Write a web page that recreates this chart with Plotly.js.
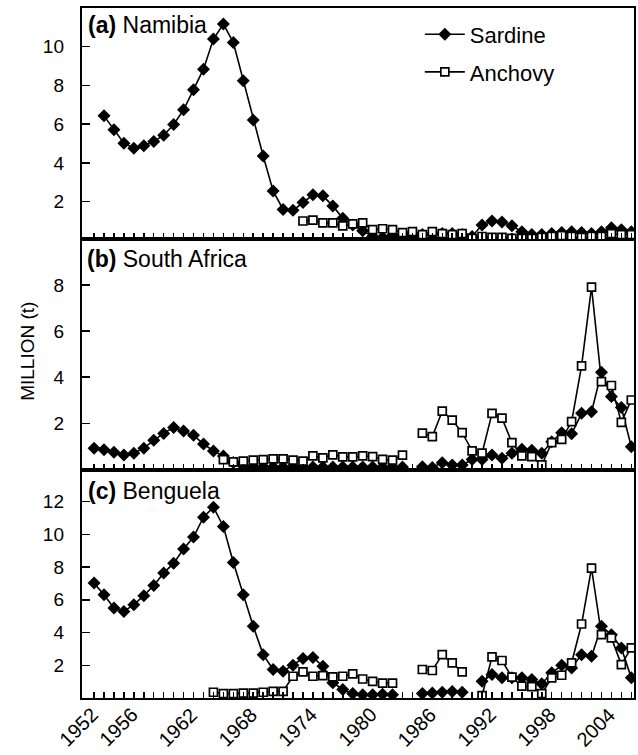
<!DOCTYPE html>
<html><head><meta charset="utf-8">
<script src="https://cdn.plot.ly/plotly-3.0.1.min.js"></script>
<style>html,body{margin:0;padding:0;background:#fff;} #chart{width:638px;height:755px;}</style>
</head><body><div id="chart"></div>
<script>
const years = [1951,1952,1953,1954,1955,1956,1957,1958,1959,1960,
  1961,1962,1963,1964,1965,1966,1967,1968,1969,1970,
  1971,1972,1973,1974,1975,1976,1977,1978,1979,1980,
  1981,1982,1983,1984,1985,1986,1987,1988,1989,1990,
  1991,1992,1993,1994,1995,1996,1997,1998,1999,2000,
  2001,2002,2003,2004,2005];

// (a) Namibia
const namibiaSardine = [null,6.43,5.71,5.02,4.76,4.88,5.10,5.43,5.98,6.74,
  7.78,8.84,10.4,11.17,10.22,8.24,6.21,4.36,2.55,1.6,
  1.55,1.95,2.35,2.3,1.78,1.14,0.8,0.5,0.2,0.15,
  0.25,0.3,0.25,0.3,0.3,0.35,0.35,0.3,0.2,0.8,
  1.0,0.95,0.75,0.45,0.3,0.3,0.35,0.4,0.45,0.4,
  0.35,0.45,0.65,0.55,0.45];
const namibiaAnchovy = [null,null,null,null,null,null,null,null,null,null,
  null,null,null,null,null,null,null,null,null,null,
  null,1.0,1.05,0.9,0.9,0.75,0.85,0.9,0.55,0.6,
  0.55,0.4,0.45,0.3,0.45,0.35,0.3,0.35,0.1,0.2,
  0.15,0.15,0.1,0.1,0.1,0.15,0.2,0.25,0.2,0.15,
  0.2,0.2,0.35,0.3,0.3];

// (b) South Africa
const southAfricaSardine = [0.92,0.85,0.74,0.62,0.70,0.92,1.26,1.56,1.82,1.66,
  1.48,1.10,0.80,0.58,0.30,0.15,0.12,0.1,0.1,0.1,
  0.1,0.1,0.1,0.1,0.1,0.1,0.1,0.1,0.1,0.1,
  0.1,0.1,null,0.11,0.08,0.29,0.19,0.19,0.43,0.43,
  0.62,0.48,0.70,0.87,0.83,0.70,1.2,1.59,1.54,2.43,
  2.5,4.22,3.16,2.68,0.98];
const southAfricaAnchovy = [null,null,null,null,null,null,null,null,null,null,
  null,null,null,0.42,0.32,0.36,0.4,0.42,0.45,0.45,
  0.4,0.36,0.58,0.5,0.63,0.54,0.54,0.58,0.55,0.43,
  0.4,0.62,null,1.57,1.42,2.53,2.14,1.59,0.80,0.70,
  2.43,2.22,1.16,0.58,0.55,0.19,1.16,1.30,2.07,4.49,
  7.91,3.81,3.64,2.04,3.01];

// (c) Benguela
const benguelaSardine = [7.02,6.31,5.5,5.29,5.70,6.25,6.88,7.63,8.24,9.10,
  9.83,11.05,11.66,10.48,8.28,6.31,4.38,2.65,1.74,1.63,
  2.0,2.42,2.48,1.94,0.93,0.52,0.27,0.2,0.2,0.23,
  0.2,null,null,0.27,0.3,0.35,0.4,0.35,null,1.02,
  1.43,1.23,1.23,1.23,1.13,0.87,1.54,2.0,1.84,2.65,
  2.55,4.38,3.87,3.06,1.23];
const benguelaAnchovy = [null,null,null,null,null,null,null,null,null,null,
  null,null,0.35,0.27,0.27,0.3,0.3,0.35,0.4,0.41,
  1.33,1.6,1.33,1.37,1.29,1.33,1.47,1.16,1.02,0.91,
  0.91,null,null,1.74,1.68,2.65,2.14,1.6,null,0.15,
  2.51,2.29,1.27,0.72,0.7,0.27,1.23,1.39,2.15,4.52,
  7.94,3.87,3.67,2.04,3.06];

const xTickLabels = ['1952','1956','1962','1968','1974','1980','1986','1992','1998','2004'];
const yTicksA = [2,4,6,8,10];
const yTicksB = [2,4,6,8];
const yTicksC = [2,4,6,8,10,12];
const seriesNames = ['Sardine','Anchovy'];
const panelTitles = ['<b>(a)</b> Namibia','<b>(b)</b> South Africa','<b>(c)</b> Benguela'];
const yTitle = 'MILLION (t)';

const FONT = 'Liberation Sans, Arial, Helvetica, sans-serif';

function sardine(y, xa, ya, show) {
  return {x: years, y: y, xaxis: xa, yaxis: ya, name: seriesNames[0], type: 'scatter',
    mode: 'lines+markers', connectgaps: false, legendgroup: 'sar', showlegend: show,
    line: {color: '#000', width: 1.6},
    marker: {symbol: 'diamond', size: 10, color: '#000', line: {width: 0}}};
}
function anchovy(y, xa, ya, show) {
  return {x: years, y: y, xaxis: xa, yaxis: ya, name: seriesNames[1], type: 'scatter',
    mode: 'lines+markers', connectgaps: false, legendgroup: 'anc', showlegend: show,
    line: {color: '#000', width: 1.6},
    marker: {symbol: 'square', size: 8, color: '#fff', line: {color: '#000', width: 1.7}}};
}

const data = [
  sardine(namibiaSardine, 'x3', 'y3', true), anchovy(namibiaAnchovy, 'x3', 'y3', true),
  sardine(southAfricaSardine, 'x2', 'y2', false), anchovy(southAfricaAnchovy, 'x2', 'y2', false),
  sardine(benguelaSardine, 'x', 'y', false), anchovy(benguelaAnchovy, 'x', 'y', false)
];

function xAxis(anchor) {
  return {anchor: anchor, range: [1949.79, 2005.27], tickmode: 'array', tickvals: years,
    ticks: 'inside', ticklen: 6, tickwidth: 1.5, tickcolor: '#000', showline: true, linewidth: 2.2,
    linecolor: '#000', mirror: true, showgrid: false, zeroline: false, showticklabels: false};
}
function yAxis(domain, range, vals) {
  return {anchor: domain[2], domain: [domain[0], domain[1]], range: range, tickmode: 'array', tickvals: vals,
    ticks: 'inside', ticklen: 8, tickwidth: 1.5, tickcolor: '#000', showline: true, linewidth: 2.2,
    linecolor: '#000', mirror: true, showgrid: false, zeroline: false,
    tickfont: {family: FONT, size: 19, color: '#000'}, ticklabelstandoff: 12};
}

// rotated year labels under the bottom axis
const yearLabelAnns = xTickLabels.map(t => ({
  text: t, xref: 'x', yref: 'paper', x: Number(t), y: -0.003, xanchor: 'right', yanchor: 'top',
  xshift: 1, textangle: -45, showarrow: false, font: {family: FONT, size: 20, color: '#000'}
}));

const layout = {
  width: 638, height: 755,
  margin: {l: 82, r: 4, t: 8, b: 57},
  paper_bgcolor: '#fff', plot_bgcolor: '#fff',
  font: {family: FONT, color: '#000'},
  xaxis: xAxis('y'),
  xaxis2: Object.assign(xAxis('y2'), {matches: 'x'}),
  xaxis3: Object.assign(xAxis('y3'), {matches: 'x'}),
  yaxis: yAxis([0, 0.3304, 'x'], [0, 13.93], yTicksC),
  yaxis2: yAxis([0.3304, 0.6652, 'x2'], [-0.03, 10.0], yTicksB),
  yaxis3: yAxis([0.6652, 1, 'x3'], [0.07, 12.0], yTicksA),
  showlegend: true,
  legend: {x: 0.612, y: 0.992, xanchor: 'left', yanchor: 'top', bgcolor: 'rgba(0,0,0,0)',
    font: {family: FONT, size: 22, color: '#000'}, traceorder: 'grouped', tracegroupgap: 6, itemwidth: 40},
  annotations: [
    {text: panelTitles[0], xref: 'paper', yref: 'paper', x: 0.008, y: 0.9754, xanchor: 'left', yanchor: 'middle', showarrow: false, font: {family: FONT, size: 23, color: '#000'}},
    {text: panelTitles[1], xref: 'paper', yref: 'paper', x: 0.006, y: 0.6364, xanchor: 'left', yanchor: 'middle', showarrow: false, font: {family: FONT, size: 23, color: '#000'}},
    {text: panelTitles[2], xref: 'paper', yref: 'paper', x: 0.008, y: 0.3003, xanchor: 'left', yanchor: 'middle', showarrow: false, font: {family: FONT, size: 23, color: '#000'}},
    {text: yTitle, xref: 'paper', yref: 'paper', x: -0.0978, y: 0.5017, xanchor: 'center', yanchor: 'middle', textangle: -90, showarrow: false, font: {family: FONT, size: 19, color: '#000'}}
  ].concat(yearLabelAnns)
};

Plotly.newPlot('chart', data, layout, {displayModeBar: false, staticPlot: true});
</script>
</body></html>
